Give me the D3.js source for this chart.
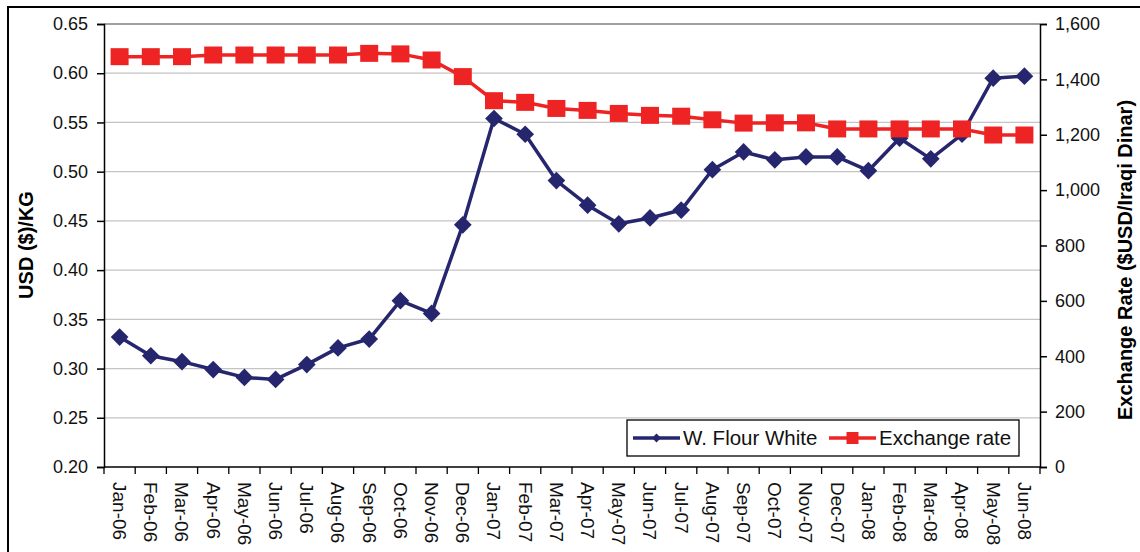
<!DOCTYPE html>
<html>
<head>
<meta charset="utf-8">
<script src="https://cdn.jsdelivr.net/npm/d3@7"></script>
<style>
  body { margin: 0; background: #fff; }
  svg { display: block; font-family: "Liberation Sans", Arial, sans-serif; }
</style>
</head>
<body>
<div id="chart"></div>
<script>
const months = ["Jan-06","Feb-06","Mar-06","Apr-06","May-06","Jun-06","Jul-06","Aug-06","Sep-06","Oct-06","Nov-06","Dec-06",
  "Jan-07","Feb-07","Mar-07","Apr-07","May-07","Jun-07","Jul-07","Aug-07","Sep-07","Oct-07","Nov-07","Dec-07",
  "Jan-08","Feb-08","Mar-08","Apr-08","May-08","Jun-08"]
const flour = [0.332,0.313,0.307,0.299,0.291,0.289,0.304,0.321,0.330,0.369,0.356,0.446,
  0.554,0.538,0.491,0.466,0.447,0.453,0.461,0.502,0.520,0.512,0.515,0.515,
  0.501,0.534,0.513,0.538,0.595,0.597]
const rate = [1482,1482,1482,1488,1488,1488,1488,1488,1494,1492,1470,1410,
  1323,1317,1295,1288,1277,1270,1267,1254,1242,1243,1243,1221,
  1221,1221,1221,1221,1199,1199]
const leftTicks = [0.20,0.25,0.30,0.35,0.40,0.45,0.50,0.55,0.60,0.65]
const rightTicks = [0,200,400,600,800,1000,1200,1400,1600]

const W = 1140, H = 552
const margin = {top: 24, right: 100, bottom: 85, left: 104}
const width = W - margin.left - margin.right
const height = H - margin.top - margin.bottom

const blue = "#26266e"
const red = "#ee2424"

const svg = d3.select("#chart").append("svg")
  .attr("width", W)
  .attr("height", H)

// outer frame
svg.append("rect")
  .attr("x", 8).attr("y", 7)
  .attr("width", W + 20).attr("height", H + 20)
  .attr("fill", "none").attr("stroke", "#000").attr("stroke-width", 2)

const g = svg.append("g")
  .attr("transform", "translate(" + margin.left + "," + margin.top + ")")

const x = d3.scaleBand().domain(months).range([0, width])
const y = d3.scaleLinear().domain([0.20, 0.65]).range([height, 0])
const y2 = d3.scaleLinear().domain([0, 1600]).range([height, 0])

// gridlines
g.append("g").selectAll("line")
  .data(leftTicks.slice(1))
  .enter().append("line")
  .attr("x1", 0).attr("x2", width)
  .attr("y1", d => y(d)).attr("y2", d => y(d))
  .attr("stroke", d => d === 0.65 ? "#808080" : "#c4c4c4")
  .attr("stroke-width", 1.3)

// left axis
const yAxis = g.append("g")
  .call(d3.axisLeft(y).tickValues(leftTicks).tickFormat(d3.format(".2f")).tickSize(7).tickPadding(9))
yAxis.selectAll("text").attr("font-size", 18).attr("fill", "#111")
yAxis.selectAll("line, path").attr("stroke", "#000").attr("stroke-width", 1.5)

// right axis
const yAxis2 = g.append("g")
  .attr("transform", "translate(" + width + ",0)")
  .call(d3.axisRight(y2).tickValues(rightTicks).tickFormat(d3.format(",")).tickSize(7).tickPadding(8))
yAxis2.selectAll("text").attr("font-size", 18).attr("fill", "#111")
yAxis2.selectAll("line, path").attr("stroke", "#000").attr("stroke-width", 1.5)

// x axis, ticks on category boundaries
const xAxis = g.append("g")
  .attr("transform", "translate(0," + height + ")")
xAxis.append("line")
  .attr("x1", 0).attr("x2", width)
  .attr("stroke", "#000").attr("stroke-width", 1.5)
xAxis.selectAll("line.tick")
  .data(months.concat(["end"]))
  .enter().append("line")
  .attr("class", "tick")
  .attr("x1", (d, i) => i * x.step()).attr("x2", (d, i) => i * x.step())
  .attr("y1", 0).attr("y2", 7)
  .attr("stroke", "#000").attr("stroke-width", 1.3)
xAxis.selectAll("text")
  .data(months)
  .enter().append("text")
  .attr("transform", d => "translate(" + (x(d) + x.bandwidth() / 2) + ",15) rotate(90)")
  .attr("dy", "0.35em")
  .attr("font-size", 19)
  .attr("fill", "#111")
  .text(d => d)

// axis titles
svg.append("text")
  .attr("transform", "translate(26,245) rotate(-90)")
  .attr("text-anchor", "middle")
  .attr("dy", "0.35em")
  .attr("font-size", 20)
  .attr("font-weight", "bold")
  .text("USD ($)/KG")
svg.append("text")
  .attr("transform", "translate(1125,260) rotate(-90)")
  .attr("text-anchor", "middle")
  .attr("dy", "0.35em")
  .attr("font-size", 20)
  .attr("font-weight", "bold")
  .text("Exchange Rate ($USD/Iraqi Dinar)")

const cx = (d, i) => x(months[i]) + x.bandwidth() / 2

// flour series
g.append("path")
  .datum(flour)
  .attr("fill", "none")
  .attr("stroke", blue)
  .attr("stroke-width", 3.5)
  .attr("stroke-linejoin", "round")
  .attr("d", d3.line().x(cx).y(d => y(d)))
g.append("g").selectAll("path")
  .data(flour)
  .enter().append("path")
  .attr("d", d3.symbol(d3.symbolDiamond2, 10 * 10 * 2))
  .attr("transform", (d, i) => "translate(" + cx(d, i) + "," + y(d) + ")")
  .attr("fill", blue)

// exchange rate series
g.append("path")
  .datum(rate)
  .attr("fill", "none")
  .attr("stroke", red)
  .attr("stroke-width", 3.5)
  .attr("d", d3.line().x(cx).y(d => y2(d)))
g.append("g").selectAll("rect")
  .data(rate)
  .enter().append("rect")
  .attr("x", (d, i) => cx(d, i) - 9)
  .attr("y", d => y2(d) - 8.5)
  .attr("width", 18).attr("height", 17)
  .attr("fill", red)

// legend
const legend = svg.append("g").attr("transform", "translate(627,420)")
legend.append("rect")
  .attr("width", 392).attr("height", 36)
  .attr("fill", "#fff").attr("stroke", "#000").attr("stroke-width", 1.3)
const items = [
  {name: "W. Flour White", color: blue, x0: 6, shape: "diamond"},
  {name: "Exchange rate", color: red, x0: 202, shape: "square"}
]
const item = legend.selectAll("g.item")
  .data(items)
  .enter().append("g")
  .attr("class", "item")
  .attr("transform", d => "translate(" + d.x0 + ",18)")
item.append("line")
  .attr("x1", 0).attr("x2", 47)
  .attr("stroke", d => d.color).attr("stroke-width", 3.5)
item.append("path")
  .attr("d", d => d.shape === "diamond"
    ? d3.symbol(d3.symbolDiamond2, 5 * 5 * 2)()
    : "M-6,-6H6V6H-6Z")
  .attr("transform", "translate(23.5,0)")
  .attr("fill", d => d.color)
item.append("text")
  .attr("x", 50)
  .attr("dy", "0.35em")
  .attr("font-size", 20.5)
  .attr("fill", "#111")
  .text(d => d.name)
</script>
</body>
</html>
